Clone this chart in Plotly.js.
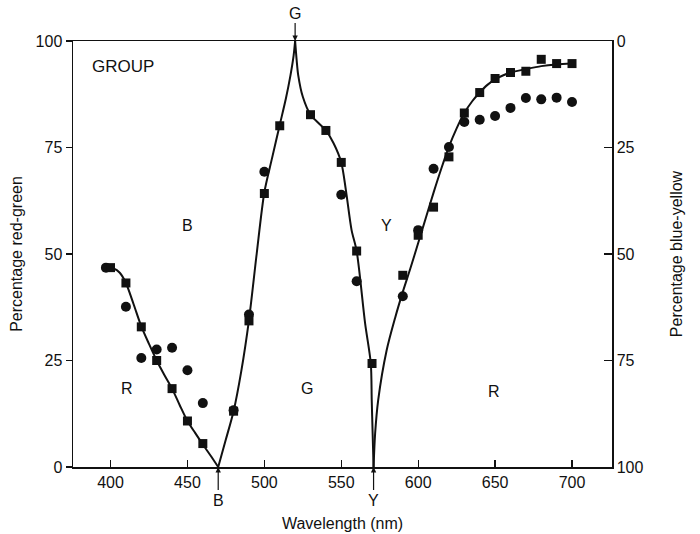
<!DOCTYPE html>
<html>
<head>
<meta charset="utf-8">
<script src="https://cdn.plot.ly/plotly-3.0.1.min.js"></script>
<style>html,body{margin:0;padding:0;background:#fff;}#chart{width:700px;height:534px;}</style>
</head>
<body>
<div id="chart"></div>
<script>
// Squares (filled) series
const squareX = [400,410,420,430,440,450,460,480,490,500,510,530,540,550,560,570,590,600,610,620,630,640,650,660,670,680,690,700];
const squareY = [46.8,43.2,32.9,25.0,18.4,10.8,5.5,13.1,34.3,64.2,80.1,82.7,79.0,71.5,50.7,24.3,45.0,54.4,61.0,72.8,83.1,87.9,91.2,92.6,92.9,95.7,94.7,94.7];
// Circles (filled) series
const circleX = [397,410,420,430,440,450,460,480,490,500,550,560,590,600,610,620,630,640,650,660,670,680,690,700];
const circleY = [46.8,37.6,25.6,27.6,28.0,22.7,15.0,13.3,35.8,69.3,63.9,43.6,40.1,55.6,70.0,75.1,81.0,81.5,82.4,84.3,86.6,86.3,86.7,85.7];
// Fitted curve
const curveX = [398,402,406,410,415,420,425,430,435,440,445,450,455,460,465,470,
  475,480,485,490,495,500,505,510,514,517,519,520,
  521,522,525,530,535,540,545,550,553,556.7,560,565.5,569.2,569.8,570.4,571,
  572,574,579.5,585,590,595,600,605,610,615,620,625,630,635,640,645,650,655,660,670,680,690,700];
const curveY = [46.8,46.6,45.6,43.2,38.2,33.0,28.9,25.0,21.6,18.4,14.5,10.8,8.0,5.3,2.7,0,
  6.5,13.1,22.5,34.5,50.0,64.5,72.5,80.3,86.5,92.0,96.5,100,
  95.5,92.0,86.9,82.7,80.8,79.0,76.0,71.5,65.0,55.6,50.7,33.7,24.3,15.7,7.8,0,
  7.8,15.7,27.4,35.0,41.1,46.7,52.6,58.5,64.4,70.0,75.2,79.5,83.1,85.8,87.9,89.7,91.0,91.9,92.6,93.4,94.1,94.5,94.7];
// Tick labels
const xTicks = [400,450,500,550,600,650,700];
const yTicks = [0,25,50,75,100];
// Region labels
const regionText = ['B','Y','R','G','R'];
const regionX = [450,579.5,411,528,649.6];
const regionY = [56.6,56.6,18.5,18.4,17.8];
// Unique-hue markers (cusps of the curve)
const hueText = ['G','B','Y'];
const hueX = [520,470,571];
const hueY = [100,0,0];

const FONT = 'Liberation Sans, Arial, Helvetica, sans-serif';
const INK = '#111';

// split the curve at the cusps so each branch is smoothed separately
const cuts = hueX.slice().sort((a, b) => a - b).map(v => curveX.indexOf(v));
const bounds = [0, ...cuts, curveX.length - 1];
const traces = [];
for (let k = 0; k < bounds.length - 1; k++) {
  const a = bounds[k], b = bounds[k + 1];
  traces.push({
    x: curveX.slice(a, b + 1), y: curveY.slice(a, b + 1), mode: 'lines',
    line: {color: INK, width: 2, shape: 'spline', smoothing: 0.8},
    hoverinfo: 'skip', showlegend: false
  });
}
traces.push({x: circleX, y: circleY, mode: 'markers', marker: {symbol: 'circle', size: 10, color: INK}, showlegend: false});
traces.push({x: squareX, y: squareY, mode: 'markers', marker: {symbol: 'square', size: 9, color: INK}, showlegend: false});
traces.push({x: [], y: [], yaxis: 'y2', mode: 'markers', showlegend: false});

const annotations = [];
regionText.forEach((t, i) => annotations.push({
  x: regionX[i], y: regionY[i], xref: 'x', yref: 'y', text: t, showarrow: false,
  font: {family: FONT, size: 16, color: INK}
}));
annotations.push({x: 386.7, y: 93.9, xref: 'x', yref: 'y', text: 'GROUP', showarrow: false,
  xanchor: 'left', font: {family: FONT, size: 17, color: INK}});
hueText.forEach((t, i) => annotations.push({
  x: hueX[i], y: hueY[i], xref: 'x', yref: 'y', text: t, showarrow: true,
  ax: 0, ay: (i === 0 ? -28 : 33), arrowhead: 2, arrowsize: 0.9, arrowwidth: 1.2,
  arrowcolor: INK, standoff: 0, font: {family: FONT, size: 16, color: INK}
}));

const layout = {
  width: 700, height: 534,
  margin: {l: 73, r: 88, t: 41, b: 67},
  paper_bgcolor: '#fff', plot_bgcolor: '#fff',
  font: {family: FONT, size: 16, color: INK},
  showlegend: false,
  xaxis: {
    range: [375.6, 726], tickvals: xTicks, ticktext: xTicks.map(String),
    ticks: 'inside', ticklen: 7, tickwidth: 1.2, tickcolor: INK,
    showline: true, linecolor: INK, linewidth: 1.5, mirror: true,
    showgrid: false, zeroline: false,
    tickfont: {family: FONT, size: 16, color: INK},
    title: {text: 'Wavelength (nm)', font: {family: FONT, size: 16, color: INK}, standoff: 28}
  },
  yaxis: {
    range: [0, 100], tickvals: yTicks, ticktext: yTicks.map(String),
    ticks: 'outside', ticklen: 6, tickwidth: 1.2, tickcolor: INK,
    showline: true, linecolor: INK, linewidth: 1.5, mirror: true,
    showgrid: false, zeroline: false,
    tickfont: {family: FONT, size: 16, color: INK},
    title: {text: 'Percentage red-green', font: {family: FONT, size: 16, color: INK}, standoff: 9}
  },
  yaxis2: {
    overlaying: 'y', side: 'right', range: [100, 0], tickvals: yTicks, ticktext: yTicks.map(String),
    ticks: 'inside', ticklen: 8, tickwidth: 1.2, tickcolor: INK,
    showline: true, linecolor: INK, linewidth: 1.5,
    showgrid: false, zeroline: false,
    tickfont: {family: FONT, size: 16, color: INK},
    title: {text: 'Percentage blue-yellow', font: {family: FONT, size: 16, color: INK}, standoff: 28}
  },
  annotations: annotations
};

Plotly.newPlot('chart', traces, layout, {staticPlot: true, displayModeBar: false});
</script>
</body>
</html>
